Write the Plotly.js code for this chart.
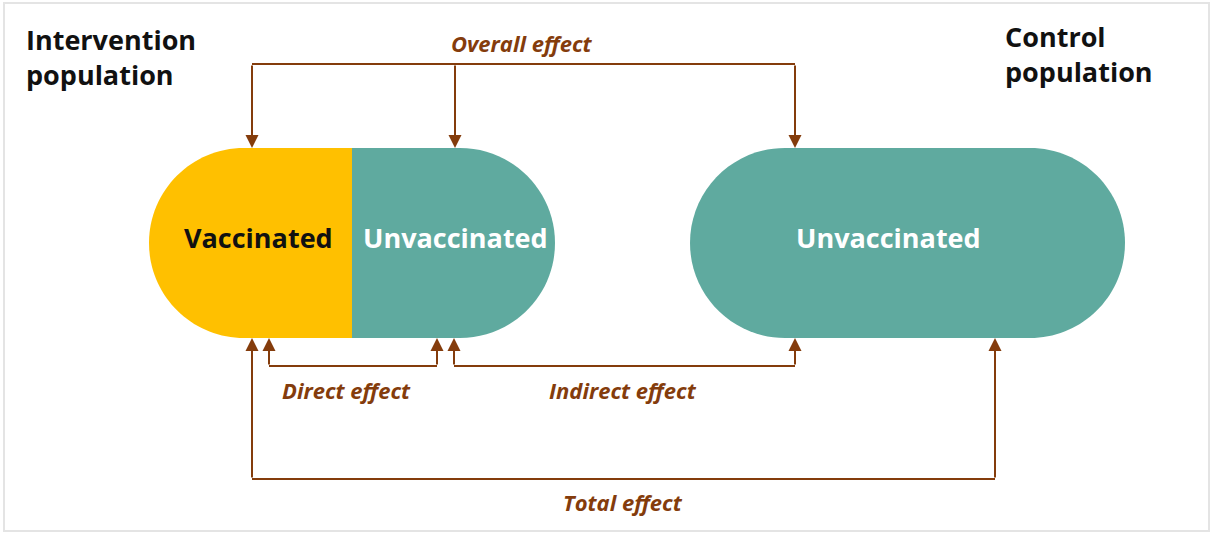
<!DOCTYPE html>
<html>
<head>
<meta charset="utf-8">
<script src="https://cdn.plot.ly/plotly-3.0.1.min.js"></script>
<style>html,body{margin:0;padding:0;background:#fff;}#chart{width:1212px;height:534px;}</style>
</head>
<body>
<div id="chart"></div>
<script>
// ---- content ----
const groupLabels = ['Intervention<br>population', 'Control<br>population'];
const nodeLabels = ['Vaccinated', 'Unvaccinated', 'Unvaccinated'];
const effectLabels = ['Overall effect', 'Direct effect', 'Indirect effect', 'Total effect'];

// ---- geometry (diagram layout, pixel space) ----
const W = 1212, H = 534;
const BROWN = '#843C0C', YELLOW = '#FFC000', TEAL = '#5FAA9F';
const pillTop = 148, pillBot = 338, R = (pillBot - pillTop) / 2;
const leftPill = {x0: 149, split: 352, x1: 555};
const rightPill = {x0: 690, x1: 1125};
const K = 0.5523 * R;

function leftCap(x0, xs) {
  const cx = x0 + R, cy = pillTop + R;
  return `M${xs},${pillTop} L${cx},${pillTop} C${cx-K},${pillTop} ${x0},${cy-K} ${x0},${cy} ` +
         `C${x0},${cy+K} ${cx-K},${pillBot} ${cx},${pillBot} L${xs},${pillBot} Z`;
}
function rightCap(xs, x1) {
  const cx = x1 - R, cy = pillTop + R;
  return `M${xs},${pillTop} L${cx},${pillTop} C${cx+K},${pillTop} ${x1},${cy-K} ${x1},${cy} ` +
         `C${x1},${cy+K} ${cx+K},${pillBot} ${cx},${pillBot} L${xs},${pillBot} Z`;
}
function fullPill(x0, x1) {
  const cl = x0 + R, cr = x1 - R, cy = pillTop + R;
  return `M${cl},${pillTop} L${cr},${pillTop} C${cr+K},${pillTop} ${x1},${cy-K} ${x1},${cy} ` +
         `C${x1},${cy+K} ${cr+K},${pillBot} ${cr},${pillBot} L${cl},${pillBot} ` +
         `C${cl-K},${pillBot} ${x0},${cy+K} ${x0},${cy} C${x0},${cy-K} ${cl-K},${pillTop} ${cl},${pillTop} Z`;
}

const shapes = [
  {type:'rect', xref:'x', yref:'y', x0:4, x1:1209, y0:3, y1:531, line:{color:'#e4e4e4', width:2}, fillcolor:'rgba(0,0,0,0)', layer:'below'},
  {type:'path', xref:'x', yref:'y', path:leftCap(leftPill.x0, leftPill.split), fillcolor:YELLOW, line:{width:0}},
  {type:'path', xref:'x', yref:'y', path:rightCap(leftPill.split, leftPill.x1), fillcolor:TEAL, line:{width:0}},
  {type:'path', xref:'x', yref:'y', path:fullPill(rightPill.x0, rightPill.x1), fillcolor:TEAL, line:{width:0}},
];

const yOverall = 64, yDirect = 366, yTotal = 479;
const hLines = [
  [252, 795, yOverall],
  [269, 437, yDirect],
  [454, 795, yDirect],
  [252, 995, yTotal],
];
hLines.forEach(([a, b, y]) => shapes.push({type:'line', xref:'x', yref:'y', x0:a, x1:b, y0:y, y1:y, line:{color:BROWN, width:2}}));

const arrows = [
  [252, yOverall, pillTop], [455, yOverall, pillTop], [795, yOverall, pillTop],
  [269, yDirect, pillBot], [437, yDirect, pillBot],
  [454, yDirect, pillBot], [795, yDirect, pillBot],
  [252, yTotal, pillBot], [995, yTotal, pillBot],
];

const annotations = [];
arrows.forEach(([x, y0, y1]) => annotations.push({
  x: x, y: y1, ax: x, ay: y0, xref:'x', yref:'y', axref:'x', ayref:'y',
  text:'', showarrow:true, arrowhead:2, arrowsize:1.3, arrowwidth:2, arrowcolor:BROWN, standoff:0
}));

const FONT = '"Open Sans", "Noto Sans", sans-serif';
annotations.push({x:24, y:57, xref:'x', yref:'y', text:'<b>'+groupLabels[0]+'</b>', showarrow:false, xanchor:'left', yanchor:'middle', align:'left',
  font:{family:FONT, size:27, color:'#111'}});
annotations.push({x:1003, y:54, xref:'x', yref:'y', text:'<b>'+groupLabels[1]+'</b>', showarrow:false, xanchor:'left', yanchor:'middle', align:'left',
  font:{family:FONT, size:27, color:'#111'}});

const nodeX = [258, 455, 888];
const nodeColors = ['#111111', '#ffffff', '#ffffff'];
nodeLabels.forEach((t, i) => annotations.push({x:nodeX[i], y:237, xref:'x', yref:'y', text:'<b>'+t+'</b>', showarrow:false,
  xanchor:'center', yanchor:'middle', font:{family:FONT, size:27, color:nodeColors[i]}}));

const effX = [522, 346, 623, 623];
const effY = [43, 390, 390, 502];
effectLabels.forEach((t, i) => annotations.push({x:effX[i], y:effY[i], xref:'x', yref:'y', text:'<b><i>'+t+'</i></b>', showarrow:false,
  xanchor:'center', yanchor:'middle', font:{family:FONT, size:22, color:BROWN}}));

const layout = {
  width: W, height: H,
  margin:{l:0, r:0, t:0, b:0},
  paper_bgcolor:'#fff', plot_bgcolor:'#fff',
  xaxis:{range:[0, W], visible:false, fixedrange:true},
  yaxis:{range:[H, 0], visible:false, fixedrange:true},
  shapes: shapes,
  annotations: annotations,
  showlegend:false
};
Plotly.newPlot('chart', [{x:[], y:[], type:'scatter'}], layout, {displayModeBar:false, staticPlot:true});
</script>
</body>
</html>
